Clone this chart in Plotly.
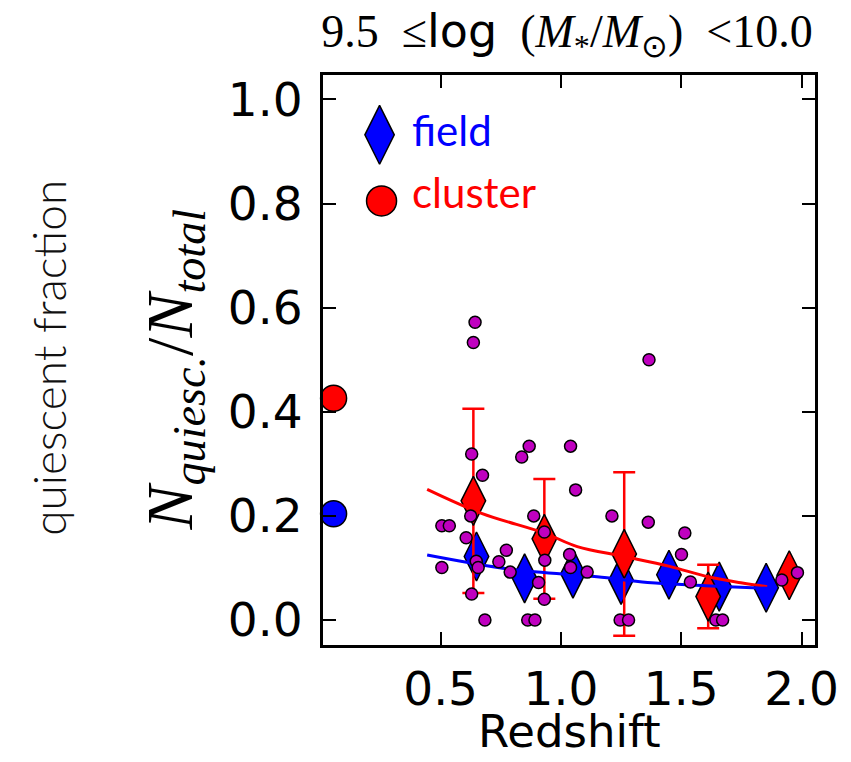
import plotly.graph_objects as go

# ---------------- data ----------------
field_z = [0.649, 0.849, 1.050, 1.250, 1.449, 1.658, 1.853]
field_f = [0.122, 0.080, 0.089, 0.077, 0.087, 0.064, 0.062]

cluster_z = [0.636, 0.931, 1.263, 1.612, 1.949]
cluster_f = [0.229, 0.156, 0.127, 0.045, 0.086]
cluster_err = [0.177, 0.115, 0.157, 0.061, 0.0]

local_z = [0.055]
local_field_f = [0.204]
local_cluster_f = [0.426]

cluster_fit_z = [0.444, 0.670, 0.931, 1.068, 1.263, 1.452, 1.612, 1.754, 1.857]
cluster_fit_f = [0.251, 0.205, 0.167, 0.141, 0.122, 0.103, 0.083, 0.071, 0.064]

field_fit_z = [0.444, 0.800, 1.150, 1.360, 1.600, 1.857]
field_fit_f = [0.125, 0.097, 0.083, 0.072, 0.066, 0.061]

indiv_z = [0.643, 0.636, 1.366, 0.629, 0.837, 0.868, 1.040, 0.674, 1.061, 0.887,
           1.212, 1.363, 0.505, 0.536, 0.625, 0.606, 0.931, 1.515, 0.773, 1.036,
           1.501, 0.742, 0.648, 0.933, 0.505, 0.656, 1.040, 0.789, 1.109, 1.538,
           0.907, 0.629, 0.931, 0.684, 0.862, 0.892, 1.246, 1.281, 1.644, 1.672,
           1.918, 1.983]
indiv_f = [0.572, 0.533, 0.500, 0.319, 0.313, 0.334, 0.334, 0.278, 0.250, 0.200,
           0.200, 0.188, 0.181, 0.181, 0.200, 0.158, 0.169, 0.167, 0.134, 0.126,
           0.126, 0.112, 0.113, 0.115, 0.101, 0.101, 0.101, 0.092, 0.092, 0.073,
           0.072, 0.050, 0.040, 0.0, 0.0, 0.0, 0.0, 0.0, 0.0, 0.0,
           0.077, 0.091]

x_ticks = [0.5, 1.0, 1.5, 2.0]
x_ticklabels = ["0.5", "1.0", "1.5", "2.0"]
y_ticks = [0.0, 0.2, 0.4, 0.6, 0.8, 1.0]
y_ticklabels = ["0.0", "0.2", "0.4", "0.6", "0.8", "1.0"]

legend_labels = ["field", "cluster"]

BLUE = "#0000ff"
RED = "#ff0000"
MAG = "#bf00bf"
EDGE = dict(color="black", width=1.5)

fig = go.Figure()

# field diamonds
fig.add_trace(go.Scatter(x=field_z, y=field_f, mode="markers",
                         marker=dict(symbol="diamond-tall", size=35, color=BLUE, line=EDGE),
                         showlegend=False))
# cluster diamonds with error bars
fig.add_trace(go.Scatter(x=cluster_z, y=cluster_f, mode="markers",
                         error_y=dict(type="data", array=cluster_err, color=RED,
                                      thickness=2.5, width=11),
                         marker=dict(symbol="diamond-tall", size=35, color=RED, line=EDGE),
                         showlegend=False))
# fit lines
fig.add_trace(go.Scatter(x=cluster_fit_z, y=cluster_fit_f, mode="lines",
                         line=dict(color=RED, width=3, shape="spline"), showlegend=False))
fig.add_trace(go.Scatter(x=field_fit_z, y=field_fit_f, mode="lines",
                         line=dict(color=BLUE, width=3, shape="spline"), showlegend=False))
# individual clusters
fig.add_trace(go.Scatter(x=indiv_z, y=indiv_f, mode="markers",
                         marker=dict(symbol="circle", size=12, color=MAG, line=EDGE),
                         showlegend=False))
# local values
fig.add_trace(go.Scatter(x=local_z, y=local_cluster_f, mode="markers",
                         marker=dict(symbol="circle", size=26, color=RED, line=EDGE),
                         showlegend=False, cliponaxis=False))
fig.add_trace(go.Scatter(x=local_z, y=local_field_f, mode="markers",
                         marker=dict(symbol="circle", size=26, color=BLUE, line=EDGE),
                         showlegend=False, cliponaxis=False))

# legend keys on an overlay axis (fractions of the plot area)
fig.add_trace(go.Scatter(x=[0.115], y=[0.895], xaxis="x2", yaxis="y2", mode="markers",
                         marker=dict(symbol="diamond-tall", size=42, color=BLUE, line=EDGE),
                         showlegend=False, hoverinfo="skip"))
fig.add_trace(go.Scatter(x=[0.119], y=[0.779], xaxis="x2", yaxis="y2", mode="markers",
                         marker=dict(symbol="circle", size=30, color=RED, line=EDGE),
                         showlegend=False, hoverinfo="skip"))

axis_common = dict(showline=True, linewidth=3, linecolor="black", mirror="ticks",
                   ticks="inside", ticklen=13, tickwidth=1.5, tickcolor="black",
                   showgrid=False, zeroline=False,
                   tickfont=dict(family="DejaVu Sans", size=47, color="black"))

NB = "&nbsp;"
title_text = ('9.5' + NB + NB + '\u2264<span style="font-family:DejaVu Sans">log</span>' + NB + NB +
              '(<i>M</i><sub>*</sub>/<i>M</i><sub>\u2299</sub>)' + NB + NB + '&lt;10.0')

fig.update_layout(
    width=851, height=762,
    margin=dict(l=323, r=31, t=75, b=117),
    paper_bgcolor="white", plot_bgcolor="white",
    xaxis=dict(range=[0.011, 2.056], tickvals=x_ticks, ticktext=x_ticklabels,
               ticklabelstandoff=1, **axis_common),
    yaxis=dict(range=[-0.048, 1.047], tickvals=y_ticks, ticktext=y_ticklabels,
               ticklabelstandoff=8, **axis_common),
    xaxis2=dict(overlaying="x", range=[0, 1], visible=False),
    yaxis2=dict(overlaying="y", range=[0, 1], visible=False),
    title=dict(
        text=title_text,
        x=567 / 851, xanchor="center", xref="container",
        y=1 - 31 / 762, yanchor="middle", yref="container",
        font=dict(family="Liberation Serif", size=46, color="black")),
    showlegend=False,
)

annotations = [
    dict(text="Redshift", xref="paper", yref="paper", x=0.5, y=(645 - 731) / 570,
         xanchor="center", yanchor="middle", showarrow=False,
         font=dict(family="DejaVu Sans", size=45, color="black")),
    dict(text="<i>N</i><sub><i>quiesc.</i></sub>/<i>N</i><sub><i>total</i></sub>",
         xref="paper", yref="paper", x=(172 - 323) / 497, y=(645 - 370) / 570,
         textangle=-90, xanchor="center", yanchor="middle", showarrow=False,
         font=dict(family="Liberation Serif", size=66, color="black")),
    dict(text="quiescent fraction", xref="paper", yref="paper",
         x=(45 - 323) / 497, y=(645 - 358) / 570, textangle=-90,
         xanchor="center", yanchor="middle", showarrow=False,
         font=dict(family="Lato", size=46, color="#111111", weight=300)),
    dict(text=legend_labels[0], xref="paper", yref="paper", x=(411 - 323) / 497, y=0.903,
         xanchor="left", yanchor="middle", showarrow=False,
         font=dict(family="Lato", size=42, color=BLUE)),
    dict(text=legend_labels[1], xref="paper", yref="paper", x=(411 - 323) / 497, y=0.795,
         xanchor="left", yanchor="middle", showarrow=False,
         font=dict(family="Lato", size=42, color=RED)),
]
fig.update_layout(annotations=annotations)

fig.write_html("out.html", config={"displayModeBar": False},
               post_script="document.body.style.margin='0';document.body.style.overflow='hidden';")
